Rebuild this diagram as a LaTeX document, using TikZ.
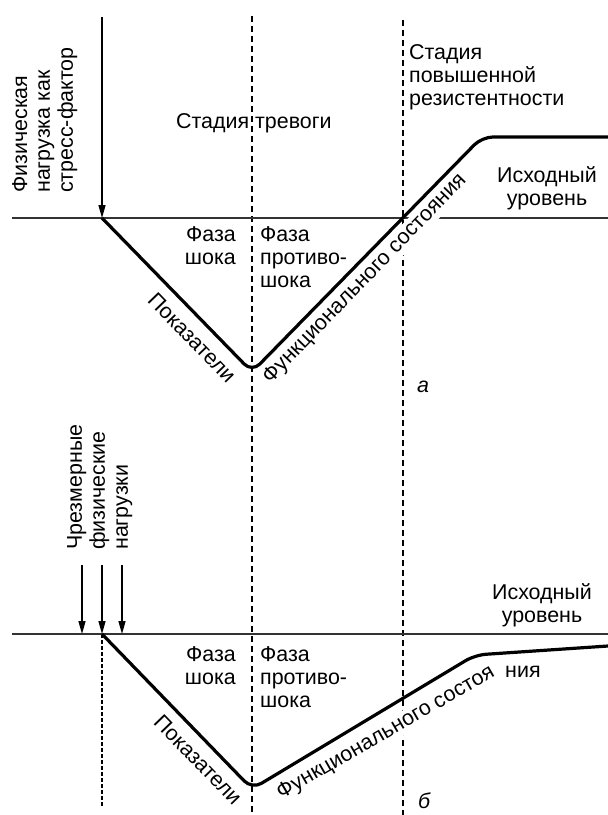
\documentclass[tikz,border=0pt]{standalone}
\usepackage{fontspec}
\setmainfont{Liberation Sans}
\usetikzlibrary{arrows.meta}

\begin{document}
\begin{tikzpicture}[x=1bp, y=-1bp,
    curve/.style={line width=3.2bp, rounded corners=11bp, line join=round},
    base/.style={line width=1.3bp, color=black!80},
    stage/.style={line width=1.4bp, dash pattern=on 6bp off 4bp},
    load/.style={line width=1.4bp, -{Triangle[length=13bp,width=7bp]}},
    lbl/.style={inner sep=0pt, font=\fontsize{21.5}{23}\selectfont},
    tag/.style={lbl, font=\fontsize{21.5}{23}\selectfont\itshape},
    cut/.style={lbl, fill=white, inner sep=1.5bp}]
  \useasboundingbox (0,0) rectangle (608,815);

  % points of the two curves
  \coordinate (startA) at (102,218);
  \coordinate (lowA) at (252,372);
  \coordinate (kneeA) at (482,137);
  \coordinate (endA) at (608,137);
  \coordinate (startB) at (102,634);
  \coordinate (lowB) at (252,789);
  \coordinate (kneeB) at (475,655);
  \coordinate (endB) at (608,646);

  % stage borders
  \coordinate (alarmTop) at (252,16);
  \coordinate (alarmBot) at (252,815);
  \coordinate (resTop) at (403,20);
  \coordinate (resBot) at (403,815);
  \draw[stage] (alarmTop) -- (alarmBot);
  \draw[stage] (resTop) -- (resBot);
  \draw[line width=1.1bp, dash pattern=on 3.5bp off 2.5bp] (startB) -- (102,808);

  % initial level
  \draw[base] (12,218) -- (608,218);
  \draw[base] (12,634) -- (608,634);

  % texts that cut the lines
  \node[cut, rotate=46] (funcA) at (365,279) {Функционального состояния};
  \node[cut, rotate=30] (funcB) at (386,733) {Функционального состоя};

  \draw[curve] (startA) -- (lowA) -- (kneeA) -- (endA);
  \draw[curve] (startB) -- (lowB) -- (kneeB) -- (endB);

  % loads
  \coordinate (loadA) at (102,17);
  \draw[load] (loadA) -- (startA);
  \coordinate (loadB1) at (82,565);
  \coordinate (hitB1) at (82,634);
  \coordinate (loadB2) at (102,565);
  \coordinate (loadB3) at (122,565);
  \coordinate (hitB3) at (122,634);
  \draw[load] (loadB1) -- (hitB1);
  \draw[load] (loadB2) -- (startB);
  \draw[load] (loadB3) -- (hitB3);

  % a
  \node[lbl, rotate=90, anchor=north west, align=left] (stressA) at (12,193) {Физическая\\нагрузка как\\стресс-фактор};
  \node[lbl, anchor=base west] (alarm) at (176,128) {Стадия тревоги};
  \node[lbl, anchor=north west, align=left] (resist) at (409,44.5) {Стадия\\повышенной\\резистентности};
  \node[lbl, anchor=north, align=center] (levelA) at (547,166.5) {Исходный\\уровень};
  \node[lbl, anchor=north east, align=right] (shockA) at (236,226.5) {Фаза\\шока};
  \node[lbl, anchor=north west, align=left] (antiA) at (260,226.5) {Фаза\\противо-\\шока};
  \node[lbl, rotate=-46] (indA) at (192,338) {Показатели};
  \node[tag, anchor=base west] (tagA) at (417,392) {а};

  % b
  \node[lbl, rotate=90, anchor=north west, align=left] (stressB) at (67,550) {Чрезмерные\\физические\\нагрузки};
  \node[lbl, anchor=north, align=center] (levelB) at (542,583.5) {Исходный\\уровень};
  \node[lbl, anchor=north east, align=right] (shockB) at (236,646.5) {Фаза\\шока};
  \node[lbl, anchor=north west, align=left] (antiB) at (260,646.5) {Фаза\\противо-\\шока};
  \node[lbl, rotate=-46] (indB) at (198,760) {Показатели};
  \node[lbl, anchor=base west] (funcTail) at (505,677) {ния};
  \node[tag, anchor=base west] (tagB) at (418,808) {б};
\end{tikzpicture}
\end{document}
